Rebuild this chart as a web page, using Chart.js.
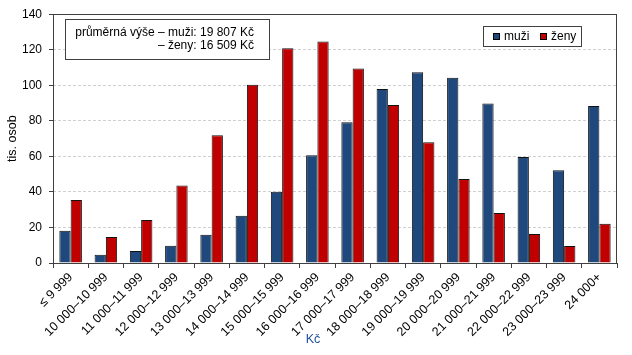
<!DOCTYPE html>
<html>
<head>
<meta charset="utf-8">
<script src="https://cdn.jsdelivr.net/npm/chart.js@4"></script>
<style>
html,body{margin:0;padding:0;background:#fff;}
#wrap{position:relative;width:632px;height:355px;}
</style>
</head>
<body>
<div id="wrap"><canvas id="c" width="632" height="355"></canvas></div>
<script>
const categories = ["≤ 9 999","10 000–10 999","11 000–11 999","12 000–12 999","13 000–13 999","14 000–14 999","15 000–15 999","16 000–16 999","17 000–17 999","18 000–18 999","19 000–19 999","20 000–20 999","21 000–21 999","22 000–22 999","23 000–23 999","24 000+"];
const muzi = [18.1, 4.7, 6.7, 9.7, 15.9, 26.6, 40.1, 60.7, 79.2, 97.9, 107.3, 104.3, 89.7, 59.7, 52.2, 88.4];
const zeny = [35.4, 14.6, 24.2, 43.6, 71.9, 100.3, 120.8, 124.7, 109.5, 88.9, 68.0, 47.2, 28.1, 16.3, 9.6, 22.1];
const yTicks = [0, 20, 40, 60, 80, 100, 120, 140];
const seriesNames = ["muži", "ženy"];
const noteLines = ["průměrná výše – muži: 19 807 Kč", "– ženy: 16 509 Kč"];
const yTitle = "tis. osob";
const xTitle = "Kč";

const BLUE = "#1F497D", RED = "#C00000";
const FONT = "Arial, 'Liberation Sans', sans-serif";

const overlay = {
  id: 'overlay',
  afterDraw(chart) {
    const ctx = chart.ctx, a = chart.chartArea;
    ctx.save();
    ctx.strokeStyle = "#404040"; ctx.lineWidth = 1;
    ctx.strokeRect(Math.round(a.left) + 0.5, Math.round(a.top) + 0.5, Math.round(a.right - a.left) - 1, Math.round(a.bottom - a.top));
    ctx.fillStyle = "#000";
    ctx.font = "12.5px " + FONT;
    ctx.textAlign = "center"; ctx.textBaseline = "middle";
    ctx.save();
    ctx.translate(13, (a.top + a.bottom) / 2);
    ctx.rotate(-Math.PI / 2);
    ctx.fillText(yTitle, 0, 0);
    ctx.restore();
    ctx.fillStyle = "#1F4E99";
    ctx.fillText(xTitle, 313, 340);
    ctx.font = "12px " + FONT;
    ctx.fillStyle = "#fff";
    ctx.fillRect(65.5, 19.5, 204, 40);
    ctx.strokeStyle = "#404040";
    ctx.strokeRect(65.5, 19.5, 204, 40);
    ctx.fillStyle = "#000";
    ctx.textAlign = "right";
    ctx.fillText(noteLines[0], 254, 33);
    ctx.fillText(noteLines[1], 254, 46);
    ctx.fillStyle = "#fff";
    ctx.fillRect(483.5, 26.5, 98, 20);
    ctx.strokeRect(483.5, 26.5, 98, 20);
    const colors = [BLUE, RED];
    const xs = [493, 540];
    ctx.textAlign = "left";
    for (let i = 0; i < 2; i++) {
      ctx.fillStyle = colors[i];
      ctx.fillRect(xs[i], 33, 7, 7);
      ctx.strokeStyle = "#000";
      ctx.strokeRect(xs[i] + 0.5, 33.5, 6, 6);
      ctx.fillStyle = "#000";
      ctx.fillText(seriesNames[i], xs[i] + 11, 37);
    }
    ctx.restore();
  }
};

new Chart(document.getElementById('c'), {
  type: 'bar',
  data: {
    labels: categories,
    datasets: [
      { label: seriesNames[0], data: muzi, backgroundColor: BLUE, borderColor: "#111", borderWidth: 1, categoryPercentage: 0.64, barPercentage: 1.0 },
      { label: seriesNames[1], data: zeny, backgroundColor: RED, borderColor: "#111", borderWidth: 1, categoryPercentage: 0.64, barPercentage: 1.0 }
    ]
  },
  options: {
    responsive: false,
    animation: false,
    events: [],
    layout: { padding: { left: 0, right: 15, top: 13, bottom: 0 } },
    plugins: { legend: { display: false }, tooltip: { enabled: false } },
    scales: {
      x: {
        offset: true,
        grid: { display: true, offset: true, drawOnChartArea: false, drawTicks: true, tickLength: 5, color: "#404040", tickColor: "#404040" },
        border: { display: false },
        ticks: { color: "#000", font: { family: FONT, size: 12.5 }, minRotation: 45, maxRotation: 45, autoSkip: false, padding: 2 },
        afterFit(s) { s.height = 355 - 263; }
      },
      y: {
        min: 0, max: 140,
        afterBuildTicks(s) { s.ticks = yTicks.map(v => ({ value: v })); },
        grid: { color: (c) => (c.tick && (c.tick.value === 0 || c.tick.value === 140)) ? "rgba(0,0,0,0)" : "#d0d0d0", tickColor: "#404040", tickLength: 4, tickBorderDash: [] , lineWidth: 1},
        border: { display: false, dash: [3, 2] },
        ticks: { color: "#000", font: { family: FONT, size: 12 }, padding: 7 },
        afterFit(s) { s.width = 53; }
      }
    }
  },
  plugins: [overlay]
});
</script>
</body>
</html>
